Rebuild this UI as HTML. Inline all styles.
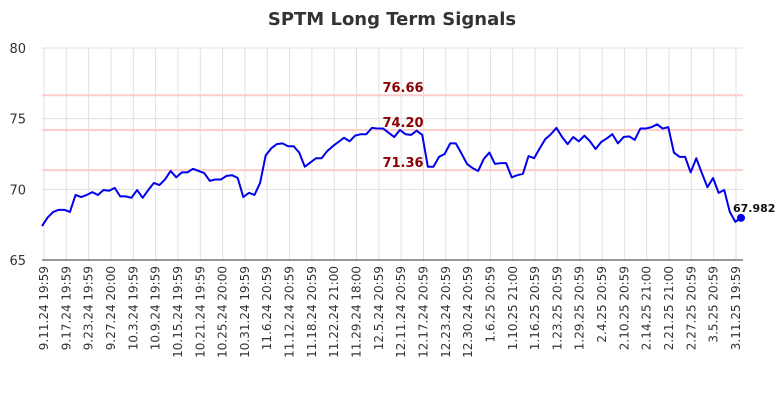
<!DOCTYPE html>
<html><head><meta charset="utf-8"><style>
body{margin:0;background:#fff;}
svg{font-family:"DejaVu Sans","Liberation Sans",sans-serif;display:block;}
</style></head><body>
<svg id="chart" width="784" height="400">
<text x="392" y="25" text-anchor="middle" font-size="18" font-weight="bold" fill="#333">SPTM Long Term Signals</text>
<g id="grid"></g>
<g id="levels"></g>
<g id="series"></g>
<g id="axes"></g>
</svg>
<script>
const prices=[67.4,68.0,68.4,68.55,68.55,68.4,69.6,69.45,69.6,69.8,69.6,69.95,69.9,70.1,69.5,69.5,69.4,69.95,69.4,69.95,70.45,70.3,70.7,71.3,70.85,71.2,71.2,71.45,71.3,71.15,70.6,70.7,70.7,70.95,71.0,70.8,69.45,69.75,69.6,70.45,72.4,72.9,73.2,73.25,73.05,73.05,72.6,71.6,71.9,72.2,72.2,72.7,73.05,73.35,73.65,73.4,73.8,73.9,73.9,74.35,74.3,74.3,74.0,73.7,74.2,73.9,73.85,74.15,73.85,71.6,71.6,72.3,72.5,73.25,73.25,72.55,71.8,71.5,71.3,72.15,72.6,71.8,71.85,71.85,70.85,71.0,71.1,72.35,72.2,72.9,73.55,73.9,74.35,73.7,73.2,73.7,73.4,73.8,73.4,72.85,73.35,73.6,73.9,73.25,73.7,73.75,73.5,74.3,74.3,74.4,74.6,74.3,74.4,72.6,72.3,72.3,71.2,72.2,71.15,70.15,70.8,69.75,69.95,68.4,67.7,67.982];
const tickLabels=["9.11.24 19:59","9.17.24 19:59","9.23.24 19:59","9.27.24 20:00","10.3.24 19:59","10.9.24 19:59","10.15.24 19:59","10.21.24 19:59","10.25.24 20:00","10.31.24 19:59","11.6.24 20:59","11.12.24 20:59","11.18.24 20:59","11.22.24 21:00","11.29.24 18:00","12.5.24 20:59","12.11.24 20:59","12.17.24 20:59","12.23.24 20:59","12.30.24 20:59","1.6.25 20:59","1.10.25 21:00","1.16.25 20:59","1.23.25 20:59","1.29.25 20:59","2.4.25 20:59","2.10.25 20:59","2.14.25 21:00","2.21.25 21:00","2.27.25 20:59","3.5.25 20:59","3.11.25 19:59"];
const yTicks=[65,70,75,80];
const levels=[76.66,74.20,71.36];
const lastLabel="67.982";
const NS="http://www.w3.org/2000/svg";
const X0=42,X1=741,Y0=260,Y1=48,VMIN=65,VMAX=80;
const xOf=i=>X0+(X1-X0)*i/(prices.length-1);
const tx=i=>44+(736-44)*i/(tickLabels.length-1);
const yOf=v=>Y0-(v-VMIN)/(VMAX-VMIN)*(Y0-Y1);
function mk(t,a,p){const e=document.createElementNS(NS,t);for(const k in a)e.setAttribute(k,a[k]);p.appendChild(e);return e;}
const grid=document.getElementById('grid'),lv=document.getElementById('levels'),se=document.getElementById('series'),ax=document.getElementById('axes');
yTicks.forEach(v=>{
 const l=mk('line',{x1:X0,x2:743,y1:yOf(v),y2:yOf(v),stroke:'#e0e0e0','stroke-width':1},grid);
 
 
 const t=mk('text',{x:26,y:yOf(v)+5,'text-anchor':'end','font-size':13,fill:'#333'},ax);
 t.textContent=v;
 
 
});
tickLabels.forEach((s,i)=>{
 const l=mk('line',{x1:tx(i),x2:tx(i),y1:Y1,y2:Y0,stroke:'#e0e0e0','stroke-width':1},grid);
 
 
 const t=mk('text',{x:0,y:0,'text-anchor':'end','font-size':12,fill:'#333',transform:`translate(${tx(i)+4},266) rotate(-90)`},ax);
 t.textContent=s;
 
 
});
mk('line',{x1:X0,x2:743,y1:Y0,y2:Y0,stroke:'#333','stroke-width':1},ax);
levels.forEach(v=>{
 const l=mk('line',{x1:X0,x2:743,y1:yOf(v),y2:yOf(v),stroke:'#ffcccc','stroke-width':2},lv);
 
 
 const t=mk('text',{x:403,y:yOf(v)-3,'text-anchor':'middle','font-size':13,'font-weight':'bold',fill:'#8b0000'},lv);
 t.textContent=v.toFixed(2);
 
 
});
const pl=mk('polyline',{points:prices.map((v,i)=>xOf(i)+','+yOf(v)).join(' '),fill:'none',stroke:'#0000ee','stroke-width':2,'stroke-linejoin':'round'},se);


const n=prices.length-1;
const d=mk('circle',{cx:xOf(n),cy:yOf(prices[n]),r:4,fill:'#0000ee'},se);


const lt=mk('text',{x:xOf(n)-8,y:yOf(prices[n])-6,'font-size':11,'font-weight':'bold',fill:'#111'},se);
lt.textContent=lastLabel;


</script>
</body></html>
